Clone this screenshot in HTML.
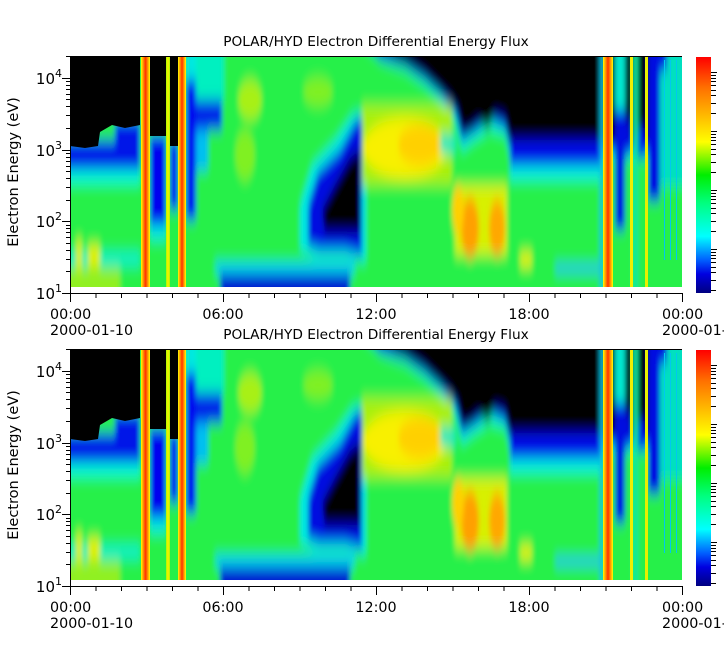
<!DOCTYPE html>
<html><head><meta charset="utf-8"><style>
html,body{margin:0;padding:0;background:#fff;}
svg{display:block;font-family:"DejaVu Sans","Liberation Sans",sans-serif;}
</style></head><body>
<svg id="s" width="724" height="656" viewBox="0 0 724 656" xmlns="http://www.w3.org/2000/svg">
<defs>
<filter id="bl" x="-5%" y="-10%" width="110%" height="120%"><feGaussianBlur stdDeviation="2.5 7"/></filter>
<clipPath id="cp"><rect x="70" y="56" width="612" height="231"/></clipPath>
<linearGradient id="cb" x1="0" y1="0" x2="0" y2="1">
<stop offset="0" stop-color="#ff0000"/><stop offset="0.13" stop-color="#ff7000"/>
<stop offset="0.36" stop-color="#ffff00"/><stop offset="0.5" stop-color="#00ee00"/>
<stop offset="0.62" stop-color="#00ff80"/><stop offset="0.76" stop-color="#00ffff"/>
<stop offset="0.86" stop-color="#0060ff"/><stop offset="0.92" stop-color="#0000e0"/>
<stop offset="1" stop-color="#000080"/></linearGradient>
<linearGradient id="hot" x1="0" y1="0" x2="1" y2="0">
<stop offset="0" stop-color="#ffff00"/><stop offset="0.5" stop-color="#ff3000"/><stop offset="1" stop-color="#ffff00"/></linearGradient>
<linearGradient id="yel" x1="0" y1="0" x2="1" y2="0">
<stop offset="0" stop-color="#a0ff00"/><stop offset="0.5" stop-color="#ffee00"/><stop offset="1" stop-color="#a0ff00"/></linearGradient>
<g id="spec">
<rect x="70" y="56" width="612" height="231" fill="#28f04a"/>
<g filter="url(#bl)">
<rect x="40" y="30" width="680" height="290" fill="#28f04a"/>
<rect x="40" y="140" width="100" height="14" fill="#0018e8"/>
<rect x="40" y="150" width="100" height="22" fill="#0018e8"/>
<rect x="115" y="120" width="25" height="35" fill="#0018e8"/>
<rect x="40" y="170" width="100" height="14" fill="#00f8d8"/>
<rect x="40" y="252" width="100" height="14" fill="#00f0c8"/>
<rect x="40" y="268" width="80" height="40" fill="#90f020"/>
<rect x="76" y="240" width="6" height="30" fill="#d8f010"/>
<rect x="88" y="245" width="12" height="22" fill="#e0f000"/>
<rect x="150" y="135" width="16" height="95" fill="#0000f0"/>
<rect x="150" y="225" width="16" height="15" fill="#00e8e0"/>
<rect x="170" y="140" width="8" height="70" fill="#0000f0"/>
<rect x="186" y="30" width="10" height="66" fill="#00e8e0"/>
<rect x="186" y="80" width="10" height="140" fill="#0010f0"/>
<rect x="196" y="30" width="28" height="71" fill="#00f0c0"/>
<rect x="196" y="100" width="26" height="30" fill="#0020e8"/>
<rect x="196" y="130" width="12" height="40" fill="#00c0f0"/>
<rect x="220" y="274" width="130" height="40" fill="#0010d0"/>
<rect x="215" y="262" width="140" height="12" fill="#00d0f0"/>
<ellipse cx="250" cy="100" rx="12" ry="20" fill="#a8f018"/>
<ellipse cx="245" cy="155" rx="10" ry="25" fill="#80f020"/>
<ellipse cx="318" cy="92" rx="15" ry="14" fill="#80f020"/>
<polygon points="300,205 312,165 335,140 352,115 366,110 366,262 345,258 315,258 300,250" fill="#00e8e0"/>
<polygon points="308,205 318,172 340,150 355,122 362,118 362,255 345,250 320,250 308,245" fill="#0010e0"/>
<polygon points="322,210 335,185 350,158 360,150 360,232 325,232" fill="#000"/>
<polygon points="350,30 720,30 720,160 510,158 505,135 490,130 475,140 462,150 455,120 440,100 425,85 405,70 380,60" fill="#00f0e0"/>
<polygon points="355,30 720,30 720,152 510,150 505,128 490,120 475,132 462,140 455,112 440,94 425,80 405,66 380,58" fill="#0008e0"/>
<polygon points="362,30 720,30 720,140 510,140 505,118 495,115 488,128 478,122 470,130 462,132 458,112 450,100 440,90 425,75 410,65 395,57" fill="#000"/>
<rect x="362" y="105" width="90" height="80" fill="#a8f010"/>
<ellipse cx="405" cy="148" rx="42" ry="30" fill="#f8f000"/>
<ellipse cx="420" cy="145" rx="22" ry="20" fill="#ffd000"/>
<rect x="440" y="135" width="16" height="18" fill="#10e8c0"/>
<rect x="455" y="185" width="52" height="70" fill="#d8f000"/>
<ellipse cx="470" cy="228" rx="9" ry="30" fill="#ffa000"/>
<ellipse cx="497" cy="228" rx="8" ry="28" fill="#ffa800"/>
<ellipse cx="458" cy="210" rx="6" ry="25" fill="#ffd000"/>
<rect x="520" y="252" width="12" height="15" fill="#e0f000"/>
<rect x="555" y="264" width="45" height="9" fill="#20c0f0"/>
<rect x="510" y="140" width="90" height="30" fill="#0010e8"/>
<rect x="510" y="166" width="90" height="14" fill="#00f0e0"/>
<rect x="600" y="30" width="4" height="280" fill="#10c0e0"/>
<rect x="615" y="30" width="10" height="81" fill="#00e8d0"/>
<rect x="615" y="110" width="10" height="120" fill="#0008e0"/>
<rect x="625" y="30" width="5" height="96" fill="#000"/>
<rect x="625" y="120" width="5" height="35" fill="#0008e0"/>
<rect x="633" y="30" width="5" height="280" fill="#10e8a0"/>
<rect x="638" y="30" width="7" height="101" fill="#000"/>
<rect x="638" y="128" width="7" height="30" fill="#0010e0"/>
<rect x="648" y="30" width="12" height="171" fill="#0010e0"/>
<rect x="660" y="30" width="60" height="156" fill="#00e0c0"/>
<rect x="655" y="30" width="12" height="41" fill="#0010e0"/>
</g>
<rect x="141" y="56" width="9" height="231" fill="url(#hot)"/>
<rect x="150" y="56" width="16" height="80" fill="#000"/>
<rect x="166" y="56" width="4" height="231" fill="url(#yel)"/>
<rect x="170" y="56" width="8" height="90" fill="#000"/>
<rect x="178" y="56" width="8" height="231" fill="url(#hot)"/>
<rect x="603" y="56" width="10" height="231" fill="url(#hot)"/>
<rect x="630" y="56" width="3" height="231" fill="#f0f000"/>
<rect x="645" y="56" width="3" height="231" fill="#e8f000"/>
<polygon points="70,56 140,56 140,125 125,128 112,125 100,132 98,146 85,148 70,146" fill="#000"/>
<rect x="664" y="60" width="1" height="200" fill="#00c8f0"/>
<rect x="670" y="60" width="1" height="200" fill="#00c8f0"/>
<rect x="676" y="60" width="1" height="200" fill="#00c8f0"/>
</g>
</defs>

<g clip-path="url(#cp)"><use href="#spec"/></g>
<g transform="translate(0,293)"><g clip-path="url(#cp)"><use href="#spec"/></g></g>

<g id="axes" stroke="#000" fill="none" stroke-width="1"></g>

<g font-size="13.7" fill="#000">
<text x="376" y="46" text-anchor="middle">POLAR/HYD  Electron Differential Energy Flux</text>
<text x="376" y="339" text-anchor="middle">POLAR/HYD  Electron Differential Energy Flux</text>
</g>
<g font-size="14.5" fill="#000">
<text transform="translate(18,172) rotate(-90)" text-anchor="middle">Electron Energy (eV)</text>
<text transform="translate(18,465) rotate(-90)" text-anchor="middle">Electron Energy (eV)</text>
</g>
<g font-size="15" fill="#000">
<text x="62" y="84" text-anchor="end">10<tspan font-size="11" dy="-7">4</tspan></text>
<text x="62" y="156" text-anchor="end">10<tspan font-size="11" dy="-7">3</tspan></text>
<text x="62" y="227" text-anchor="end">10<tspan font-size="11" dy="-7">2</tspan></text>
<text x="62" y="299" text-anchor="end">10<tspan font-size="11" dy="-7">1</tspan></text>
<text x="62" y="377" text-anchor="end">10<tspan font-size="11" dy="-7">4</tspan></text>
<text x="62" y="449" text-anchor="end">10<tspan font-size="11" dy="-7">3</tspan></text>
<text x="62" y="520" text-anchor="end">10<tspan font-size="11" dy="-7">2</tspan></text>
<text x="62" y="592" text-anchor="end">10<tspan font-size="11" dy="-7">1</tspan></text>
</g>
<g font-size="14.3" fill="#000">
<text x="50" y="319">00:00</text><text x="50" y="335">2000-01-10</text>
<text x="223" y="319" text-anchor="middle">06:00</text>
<text x="376" y="319" text-anchor="middle">12:00</text>
<text x="529" y="319" text-anchor="middle">18:00</text>
<text x="662" y="319">00:00</text><text x="662" y="335">2000-01-10</text>
<text x="50" y="612">00:00</text><text x="50" y="628">2000-01-10</text>
<text x="223" y="612" text-anchor="middle">06:00</text>
<text x="376" y="612" text-anchor="middle">12:00</text>
<text x="529" y="612" text-anchor="middle">18:00</text>
<text x="662" y="612">00:00</text><text x="662" y="628">2000-01-10</text>
</g>
<rect x="696" y="57" width="15" height="236" fill="url(#cb)"/>
<rect x="696" y="350" width="15" height="236" fill="url(#cb)"/>
</svg>
<script>
(function(){
var g=document.getElementById('axes'),d='';
function L(x1,y1,x2,y2){d+='M'+x1+' '+y1+'L'+x2+' '+y2;}
[0,293].forEach(function(o){
 L(70,56.5+o,682,56.5+o);
 L(70.5,56+o,70.5,293+o);
 L(70,293.5+o,682,293.5+o);
 for(var h=0;h<=24;h++){var x=70.5+h*25.5;L(x,293+o,x,293+o+(h%6==0?9:5));}
 for(var e=1;e<=4;e++){var y0=293-(e-1)*71.7;
  for(var k=1;k<=9;k++){var y=y0-71.7*Math.log10(k);if(y<56)break;y=Math.round(y)+0.5;L(70,y+o,k==1?62:66,y+o);}}
 for(var e=0;e<4;e++){var y0=249-e*59;
  for(var k=1;k<=9;k++){var y=y0-59*Math.log10(k);if(y<57)break;if(y>292)continue;y=Math.round(y)+0.5;L(711,y+o,k==1?717:716,y+o);}}
 for(var k=2;k<=9;k++){var y=249+59-59*Math.log10(k);if(y<292){y=Math.round(y)+0.5;L(711,y+o,716,y+o);}}
});
var p=document.createElementNS('http://www.w3.org/2000/svg','path');p.setAttribute('d',d);g.appendChild(p);
})();
</script>
</body></html>
